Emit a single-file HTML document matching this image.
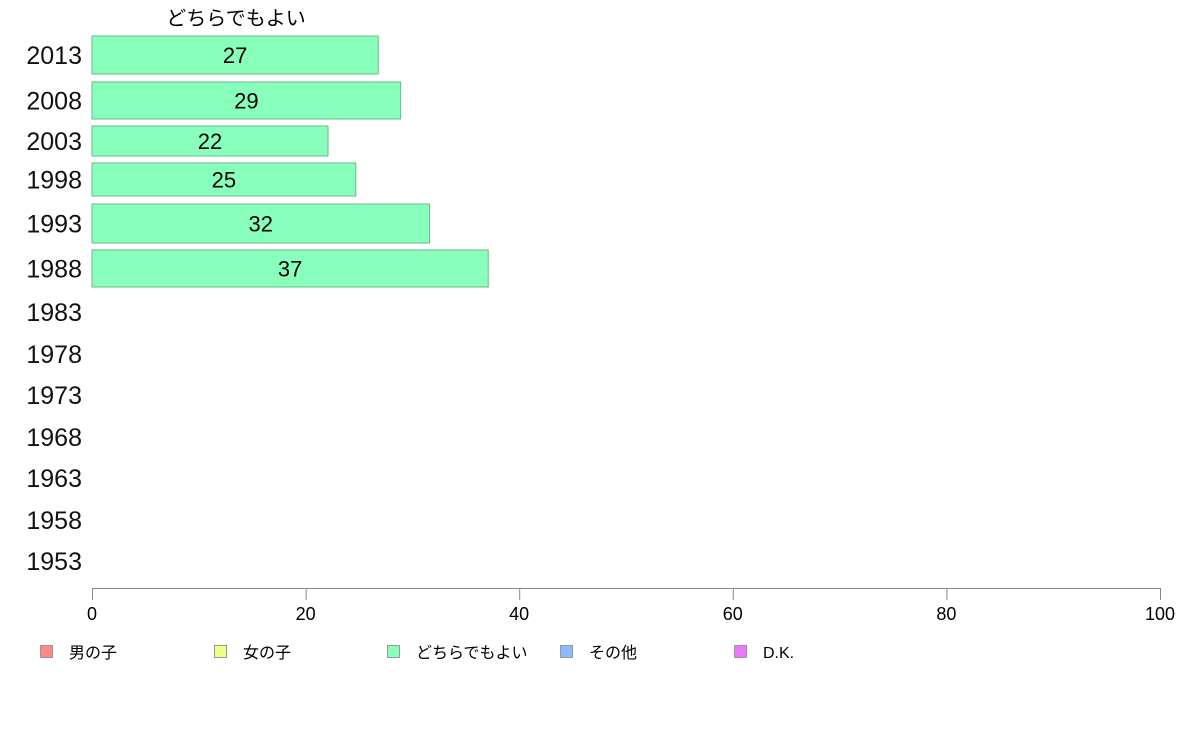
<!DOCTYPE html>
<html><head><meta charset="utf-8"><style>
html,body{margin:0;padding:0;background:#fff;}
svg text{font-family:"Liberation Sans","Noto Sans CJK JP",sans-serif;}
</style></head><body>
<svg id="chart" width="1188" height="736">
<text x="236" y="25" font-size="20" text-anchor="middle" fill="#000">どちらでもよい</text>
<g id="rows"></g>
<g id="axis"></g>
<g id="legend"></g>
</svg>
<script>
const years = ["2013","2008","2003","1998","1993","1988","1983","1978","1973","1968","1963","1958","1953"];
const values = [26.8, 28.9, 22.1, 24.7, 31.6, 37.1, null, null, null, null, null, null, null];
const tickLabels = [0, 20, 40, 60, 80, 100];
const legendLabels = ["男の子","女の子","どちらでもよい","その他","D.K."];
const legendColors = ["#ff8888","#eeff88","#88ffbb","#88bbff","#ee77ff"];

const rowLayout = [[36,38],[82,37],[126,30],[163,33],[204,39],[250,37],[293,38],[335,38],[376,38],[418,38],[459,38],[501,38],[542,38]];
const NS = "http://www.w3.org/2000/svg";
const x0 = 92, x1 = 1160;
function xs(v){ return x0 + (x1 - x0) * v / 100; }
function mk(tag, attrs, parent){ const e = document.createElementNS(NS, tag); for (const k in attrs) e.setAttribute(k, attrs[k]); parent.appendChild(e); return e; }

const rows = document.getElementById("rows");
years.forEach((y, i) => {
  const [top, h] = rowLayout[i];
  const cy = top + h / 2;
  const lab = mk("text", {x: 82, y: cy + 9, "font-size": 25, "text-anchor": "end", fill: "#111"}, rows);
  lab.textContent = y;
  
  
  const v = values[i];
  if (v != null) {
    const r = mk("rect", {x: x0, y: top, width: xs(v) - x0, height: h, fill: "#88ffbb", stroke: "#66bb88", "stroke-width": 1}, rows);
    
    
    const t = mk("text", {x: (x0 + xs(v)) / 2, y: cy + 8, "font-size": 22, "text-anchor": "middle", fill: "#000"}, rows);
    t.textContent = Math.round(v);
    
    
  }
});

const axis = document.getElementById("axis");
const line = mk("line", {x1: x0, y1: 588.5, x2: x1, y2: 588.5, stroke: "#888", "stroke-width": 1}, axis);


tickLabels.forEach(v => {
  const tk = mk("line", {x1: xs(v) + 0.5, y1: 588, x2: xs(v) + 0.5, y2: 600, stroke: "#888", "stroke-width": 1}, axis);
  
  
  const t = mk("text", {x: xs(v), y: 620, "font-size": 18, "text-anchor": "middle", fill: "#000"}, axis);
  t.textContent = v;
  
  
});

const legend = document.getElementById("legend");
const legendX = [40, 214, 387, 560, 734];
legendLabels.forEach((l, i) => {
  const r = mk("rect", {x: legendX[i] + 0.5, y: 645.5, width: 12, height: 12, fill: legendColors[i], stroke: "#999", "stroke-width": 1}, legend);
  
  
  const t = mk("text", {x: legendX[i] + 29, y: 658, "font-size": 16, fill: "#000"}, legend);
  t.textContent = l;
  
  
});
</script>
</body></html>
